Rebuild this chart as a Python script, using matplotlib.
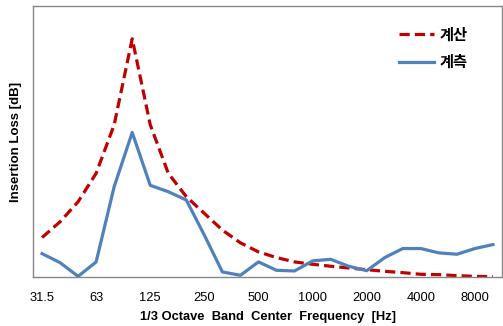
import numpy as np
import matplotlib
matplotlib.use('Agg')
import matplotlib.pyplot as plt

plt.rcParams['font.family'] = ['Liberation Sans', 'Noto Sans CJK KR', 'DejaVu Sans']

freqs = ['31.5', '40', '50', '63', '80', '100', '125', '160', '200', '250', '315', '400',
         '500', '630', '800', '1000', '1250', '1600', '2000', '2500', '3150', '4000',
         '5000', '6300', '8000', '10000']
calc = [4.37, 6.11, 8.33, 11.48, 16.85, 26.37, 16.85, 11.48, 8.89, 7.04, 5.19, 3.78,
        2.78, 2.15, 1.67, 1.41, 1.19, 1.0, 0.81, 0.63, 0.48, 0.30, 0.26, 0.15, 0.07, 0.04]
meas = [2.59, 1.59, 0.07, 1.67, 10.0, 16.0, 10.15, 9.44, 8.52, 4.63, 0.56, 0.19,
        1.67, 0.74, 0.67, 1.78, 1.96, 1.19, 0.70, 2.15, 3.15, 3.15, 2.67, 2.52, 3.15, 3.59]
shown = ['31.5', '63', '125', '250', '500', '1000', '2000', '4000', '8000']

fig = plt.figure(figsize=(5.03, 3.26), dpi=100)
ax = fig.add_axes([33 / 503, 1 - 277 / 326, 469 / 503, 271 / 326])
x = np.arange(len(freqs))
ax.plot(x, calc, color='#C00000', lw=2.3, ls=(0, (3.2, 1.6)), label='계산')
ax.plot(x, meas, color='#4F81BD', lw=2.3, label='계측')
ax.set_xlim(-0.5, len(freqs) - 0.5)
ax.set_ylim(0, 30)
ticks = [freqs.index(f) for f in shown]
ax.set_xticks(ticks)
ax.set_xticklabels(shown, fontsize=9.3)
ax.set_yticks([])
ax.tick_params(axis='x', length=0, pad=11)
for s in ax.spines.values():
    s.set_color('#868686')
    s.set_linewidth(1.0)
ax.set_xlabel('1/3 Octave  Band  Center  Frequency  [Hz]', fontsize=9.3, fontweight='bold', labelpad=5)
ax.set_ylabel('Insertion Loss [dB]', fontsize=9.5, fontweight='bold', labelpad=8)
leg = ax.legend(loc='upper left', bbox_to_anchor=(385 / 503, 1 - 13 / 326),
                bbox_transform=fig.transFigure, frameon=False,
                prop={'family': ['Noto Sans CJK KR'], 'weight': 'bold', 'size': 11},
                handlelength=2.3, labelspacing=0.75, handletextpad=0.4)
fig.savefig('out.png', dpi=100)
